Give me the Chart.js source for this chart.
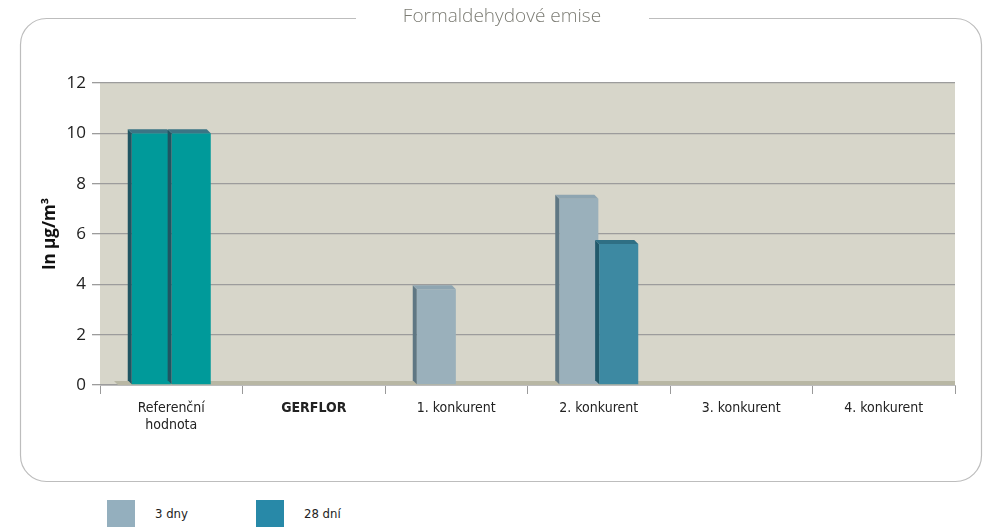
<!DOCTYPE html>
<html>
<head>
<meta charset="utf-8">
<script src="https://cdn.jsdelivr.net/npm/chart.js@4"></script>
<style>
  html, body { margin: 0; padding: 0; background: #fff; }
  #wrap { position: relative; width: 989px; height: 527px; overflow: hidden; }
  #chart { position: absolute; left: 0; top: 0; }
  .leg { position: absolute; top: 500px; height: 27px; display: flex; align-items: center;
         font-family: "DejaVu Sans Condensed", "Liberation Sans Narrow", sans-serif; font-size: 13px; color: #222; }
  .leg span.sw { display: inline-block; width: 28px; height: 27px; margin-right: 20px; }
</style>
</head>
<body>
<div id="wrap">
  <canvas id="chart" width="989" height="485"></canvas>
  <div id="legend"></div>
</div>
<script>
const categories = [['Referenční', 'hodnota'], 'GERFLOR', '1. konkurent', '2. konkurent', '3. konkurent', '4. konkurent'];
const seriesNames = ['3 dny', '28 dní'];
const days3 = [10, null, 3.8, 7.4, null, null];
const days28 = [10, null, null, 5.6, null, null];
const yTicks = [0, 2, 4, 6, 8, 10, 12];

// colours: front, side, top
const styles = {
  ref:  ['#009a9a', '#1f5562', '#3b7585'],
  d3:   ['#9ab0bb', '#5f7783', '#8ea5b1'],
  d28:  ['#3d89a2', '#22596b', '#2f6f84'],
  leg3: '#94afbe',
  leg28: '#2889a8'
};
const fontFam = '"DejaVu Sans Condensed", "Liberation Sans Narrow", sans-serif';

function colorsFor(base) {
  return categories.map((c, i) => i === 0 ? styles.ref : base);
}
const faces3 = colorsFor(styles.d3);
const faces28 = colorsFor(styles.d28);

const frame = {
  id: 'frame',
  beforeDraw(chart) {
    const { ctx, chartArea: a } = chart;
    ctx.save();
    // rounded box
    ctx.strokeStyle = '#bdbdbd';
    ctx.lineWidth = 1.2;
    ctx.beginPath();
    ctx.roundRect(20.5, 18.5, 961, 463, 26);
    ctx.stroke();
    // title gap + text
    ctx.fillStyle = '#fff';
    ctx.fillRect(356, 6, 293, 24);
    ctx.fillStyle = '#7c7c74';
    ctx.font = '300 19px "Open Sans", sans-serif';
    ctx.textAlign = 'center';
    ctx.textBaseline = 'middle';
    ctx.fillText('Formaldehydové emise', 502, 17);
    // plot background
    ctx.fillStyle = '#d7d6ca';
    ctx.fillRect(a.left, a.top, a.right - a.left, a.bottom - a.top);
    ctx.restore();
  },
  beforeDatasetsDraw(chart) {
    const { ctx, chartArea: a } = chart;
    ctx.save();
    // floor
    ctx.fillStyle = '#b8b7a4';
    ctx.beginPath();
    ctx.moveTo(a.left + 14, a.bottom - 4);
    ctx.lineTo(a.right, a.bottom - 4);
    ctx.lineTo(a.right, a.bottom);
    ctx.lineTo(a.left + 18, a.bottom);
    ctx.closePath();
    ctx.fill();
    ctx.restore();
  },
  afterDatasetsDraw(chart) {
    const { ctx } = chart;
    const d = 4;
    chart.data.datasets.forEach((ds, di) => {
      chart.getDatasetMeta(di).data.forEach((bar, i) => {
        if (ds.data[i] == null) return;
        const f = ds.faces[i];
        const x0 = bar.x - bar.width / 2, x1 = bar.x + bar.width / 2;
        const top = bar.y, bottom = bar.base;
        ctx.save();
        ctx.fillStyle = f[1];
        ctx.beginPath();
        ctx.moveTo(x0, top); ctx.lineTo(x0 - d, top - d);
        ctx.lineTo(x0 - d, bottom - d); ctx.lineTo(x0, bottom);
        ctx.closePath(); ctx.fill();
        ctx.fillStyle = f[2];
        ctx.beginPath();
        ctx.moveTo(x0, top); ctx.lineTo(x0 - d, top - d);
        ctx.lineTo(x1 - d, top - d); ctx.lineTo(x1, top);
        ctx.closePath(); ctx.fill();
        ctx.restore();
      });
    });
  }
};

new Chart(document.getElementById('chart'), {
  type: 'bar',
  data: {
    labels: categories,
    datasets: [
      { label: seriesNames[0], data: days3, faces: faces3, backgroundColor: faces3.map(f => f[0]) },
      { label: seriesNames[1], data: days28, faces: faces28, backgroundColor: faces28.map(f => f[0]) }
    ]
  },
  options: {
    responsive: false,
    animation: false,
    categoryPercentage: 0.56,
    barPercentage: 0.98,
    layout: { padding: { left: 36, right: 34, top: 83, bottom: 40 } },
    plugins: { legend: { display: false }, tooltip: { enabled: false } },
    scales: {
      x: {
        grid: { drawOnChartArea: false, offset: true, color: '#9a9a9a', tickLength: 9 },
        border: { display: true, color: '#bcbcbc' },
        ticks: {
          color: '#222',
          padding: 6,
          font: c => ({ family: fontFam, size: 14, weight: c.index === 1 ? 'bold' : 'normal' })
        },
        afterFit: s => { s.height = 60; }
      },
      y: {
        min: 0, max: 12,
        afterBuildTicks: s => { s.ticks = yTicks.map(v => ({ value: v })); },
        grid: { color: '#9c9c9c', lineWidth: 1.3, tickLength: 8 },
        border: { display: false },
        ticks: { color: '#222', padding: 6, font: { family: '"Open Sans", sans-serif', size: 17 } },
        title: { display: true, text: 'In µg/m³', color: '#111', padding: { bottom: 8 },
                 font: { family: '"Open Sans", sans-serif', size: 17, weight: 'bold' } },
        afterFit: s => { s.width = 64; }
      }
    }
  },
  plugins: [frame]
});

// legend
const legend = document.getElementById('legend');
[[seriesNames[0], styles.leg3, 107], [seriesNames[1], styles.leg28, 256]].forEach(([t, c, x]) => {
  const el = document.createElement('div');
  el.className = 'leg';
  el.style.left = x + 'px';
  el.innerHTML = '<span class="sw" style="background:' + c + '"></span>' + t;
  legend.appendChild(el);
});
</script>
</body>
</html>
